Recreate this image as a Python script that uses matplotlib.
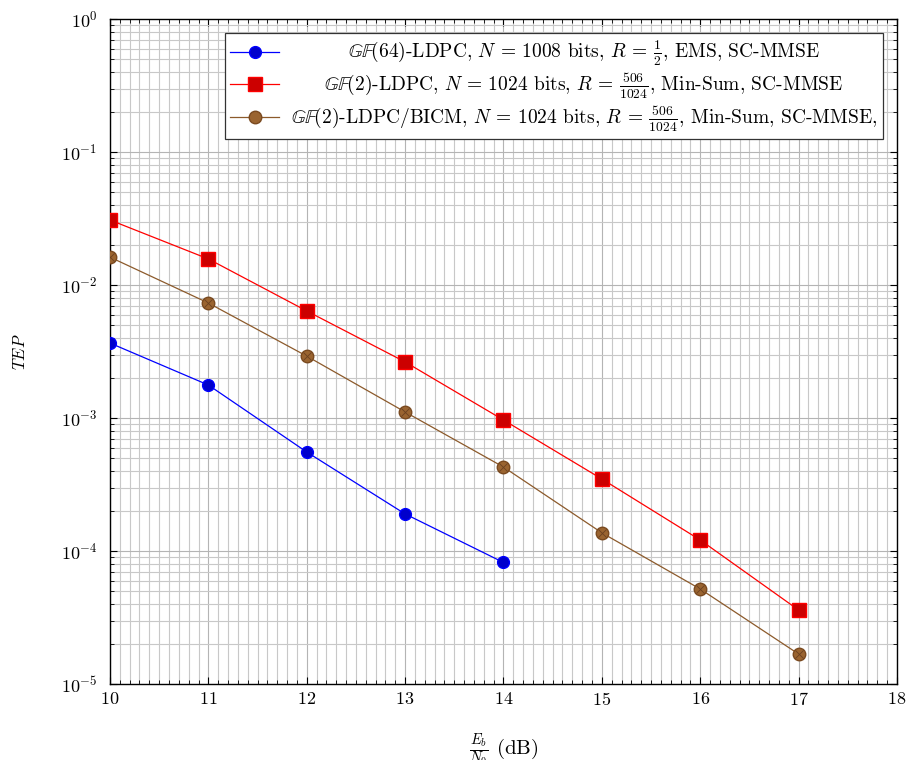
import matplotlib
matplotlib.use("Agg")
import matplotlib.pyplot as plt
from matplotlib.ticker import MultipleLocator, LogLocator, NullFormatter

plt.rcParams['mathtext.fontset'] = 'cm'
plt.rcParams['font.family'] = 'serif'
plt.rcParams['font.serif'] = ['cmr10', 'DejaVu Serif']
plt.rcParams['axes.formatter.use_mathtext'] = True

# Eb/N0 (dB)
snr_gf64 = [10, 11, 12, 13, 14]
tep_gf64 = [3.66e-3, 1.77e-3, 5.55e-4, 1.90e-4, 8.2e-5]

snr_gf2 = [10, 11, 12, 13, 14, 15, 16, 17]
tep_gf2 = [3.08e-2, 1.57e-2, 6.38e-3, 2.64e-3, 9.66e-4, 3.48e-4, 1.21e-4, 3.60e-5]

snr_bicm = [10, 11, 12, 13, 14, 15, 16, 17]
tep_bicm = [1.62e-2, 7.32e-3, 2.92e-3, 1.11e-3, 4.28e-4, 1.37e-4, 5.18e-5, 1.68e-5]

labels = [
    r"$\mathbb{GF}(64)$-LDPC, $N$ = 1008 bits, $R$ = $\frac{1}{2}$, EMS, SC-MMSE",
    r"$\mathbb{GF}(2)$-LDPC, $N$ = 1024 bits, $R$ = $\frac{506}{1024}$, Min-Sum, SC-MMSE",
    r"$\mathbb{GF}(2)$-LDPC/BICM, $N$ = 1024 bits, $R$ = $\frac{506}{1024}$, Min-Sum, SC-MMSE,",
]

brown = '#8c5a2b'

fig = plt.figure(figsize=(9.06, 7.6), dpi=100)
ax = fig.add_axes([0.1214, 0.1, 0.8686, 0.875])

ax.plot(snr_gf64, tep_gf64, '-', color='blue', lw=0.9, marker='o', ms=8.5,
        mfc='#0000cc', mec='blue', label=labels[0], zorder=4)
ax.plot(snr_gf2, tep_gf2, '-', color='red', lw=0.9, marker='s', ms=9.5,
        mfc='#cc0000', mec='red', label=labels[1], zorder=4)
ax.plot(snr_bicm, tep_bicm, '-', color=brown, lw=0.9, marker='o', ms=9,
        mfc='#9a6430', mec='#7a4a20', label=labels[2], zorder=4)
ax.plot(snr_bicm, tep_bicm, 'none', marker='x', ms=6, mec='#6a4020', mew=0.6, zorder=5)

ax.set_yscale('log')
ax.set_xlim(10, 18)
ax.set_ylim(1e-5, 1)
ax.xaxis.set_major_locator(MultipleLocator(1))
ax.xaxis.set_minor_locator(MultipleLocator(0.1))
ax.yaxis.set_major_locator(LogLocator(base=10, numticks=10))
ax.yaxis.set_minor_locator(LogLocator(base=10, subs=range(2, 10), numticks=20))
ax.yaxis.set_minor_formatter(NullFormatter())

ax.grid(True, which='major', color='#b4b4b4', lw=0.8)
ax.grid(True, which='minor', color='#c8c8c8', lw=0.8)
ax.set_axisbelow(True)

ax.tick_params(which='both', direction='in', top=True, right=True, labelsize=13)
ax.tick_params(which='major', length=5, width=0.8)
ax.tick_params(which='minor', length=3, width=0.6)
ax.tick_params(axis='x', pad=5)
ax.tick_params(axis='y', pad=9)
for s in ax.spines.values():
    s.set_linewidth(1.0)

ax.set_xlabel(r"$\frac{E_b}{N_0}$ (dB)", fontsize=15, labelpad=17)
ax.set_ylabel(r"$TEP$", fontsize=12, labelpad=24)

leg = ax.legend(loc='upper right', bbox_to_anchor=(0.982, 0.979), borderaxespad=0,
                fontsize=14, frameon=True, fancybox=False, edgecolor='#333333',
                framealpha=1, borderpad=0.3, labelspacing=0.15, handlelength=2.5,
                handletextpad=0.6)
leg.get_frame().set_linewidth(0.9)

# centre the legend texts like pgfplots does
fig.canvas.draw()
r = fig.canvas.get_renderer()
widths = [t.get_window_extent(r).width for t in leg.get_texts()]
wmax = max(widths)
for t, w in zip(leg.get_texts(), widths):
    t.set_x((wmax - w) / 2)

fig.savefig("out.png", dpi=100)
